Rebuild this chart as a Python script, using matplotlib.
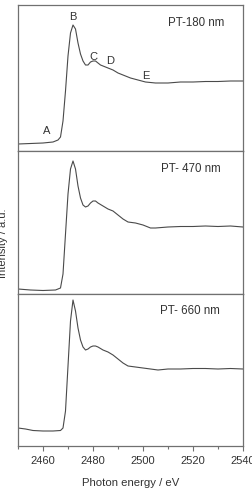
import matplotlib
matplotlib.use("Agg")
import matplotlib.pyplot as plt
from matplotlib.ticker import MultipleLocator

plt.rcParams['font.family'] = ['Liberation Sans', 'DejaVu Sans']

# photon energy (eV) and intensity (a.u.) for each sample
e_180 = [2450, 2455, 2460, 2464, 2466, 2467, 2468, 2469, 2470, 2471, 2472, 2473, 2474, 2475,
         2476, 2477, 2478, 2479, 2480, 2481, 2482, 2483, 2484, 2486, 2488, 2490, 2492, 2495,
         2498, 2501, 2505, 2510, 2515, 2520, 2525, 2530, 2535, 2540]
i_180 = [7, 7.5, 8, 9, 11, 14, 30, 60, 95, 118, 126, 122, 108, 97,
         90, 86, 86, 89, 90, 90, 88, 86, 85, 83, 81, 78, 76, 73,
         71, 69, 68, 68, 69, 69, 69.5, 69.5, 70, 70]

e_470 = [2450, 2455, 2460, 2465, 2467, 2468, 2469, 2470, 2471, 2472, 2473, 2474, 2475, 2476,
         2477, 2478, 2479, 2480, 2481, 2482, 2484, 2486, 2488, 2490, 2492, 2494, 2497, 2500,
         2503, 2505, 2510, 2515, 2520, 2525, 2530, 2535, 2540]
i_470 = [5, 4, 3.5, 4, 6, 20, 60, 100, 125, 133, 125, 108, 96, 89,
         87, 88, 91, 93, 93, 91, 88, 85, 83, 79, 75, 72, 71, 69,
         66, 66, 67, 67.5, 67.5, 68, 67.5, 68, 67]

e_660 = [2450, 2453, 2456, 2460, 2464, 2467, 2468, 2469, 2470, 2471, 2472, 2473, 2474, 2475,
         2476, 2477, 2478, 2479, 2480, 2481, 2482, 2484, 2486, 2488, 2490, 2492, 2494, 2497,
         2500, 2503, 2506, 2510, 2515, 2520, 2525, 2530, 2535, 2540]
i_660 = [18, 17, 15.5, 15, 15, 15.5, 18, 35, 80, 125, 146, 135, 118, 106,
         99, 96, 97, 99, 100, 100, 99, 96, 94, 91, 87, 83, 80, 79,
         78, 77, 76, 77, 77, 77.5, 77.5, 77, 77.5, 77]

samples = ['PT-180 nm', 'PT- 470 nm', 'PT- 660 nm']
energies = [e_180, e_470, e_660]
intensities = [i_180, i_470, i_660]
y_tops = [146, 143, 152]

peak_names = ['A', 'B', 'C', 'D', 'E']
peak_e = [2461.6, 2472, 2480, 2487, 2501]
peak_i = [20, 134, 94, 90, 75]

fig = plt.figure(figsize=(2.52, 4.90), dpi=100)
left = 18 / 252
width = (243 - 18) / 252
bounds = [(5, 151), (151, 294), (294, 446)]
label_pos = [(0.79, 0.877), (0.77, 0.874), (0.764, 0.888)]

line_col = '#4a4a4a'
frame_col = '#707070'
text_col = '#333333'

for k in range(3):
    top_px, bot_px = bounds[k]
    ax = fig.add_axes([left, 1 - bot_px / 490, width, (bot_px - top_px) / 490])
    ax.plot(energies[k], intensities[k], color=line_col, lw=0.8)
    ax.set_xlim(2450, 2540)
    ax.set_ylim(0, y_tops[k])
    ax.set_yticks([])
    for s in ax.spines.values():
        s.set_color(frame_col)
        s.set_linewidth(0.9)
    ax.text(label_pos[k][0], label_pos[k][1], samples[k], transform=ax.transAxes,
            ha='center', va='center', fontsize=8.3, color=text_col)
    if k < 2:
        ax.set_xticks([])
    else:
        ax.xaxis.set_major_locator(MultipleLocator(20))
        ax.xaxis.set_minor_locator(MultipleLocator(10))
        ax.tick_params(axis='x', which='both', direction='out', colors=frame_col,
                       labelcolor=text_col, labelsize=8, width=0.8, pad=4)
        ax.tick_params(axis='x', which='major', length=3.5)
        ax.tick_params(axis='x', which='minor', length=2)
        ax.set_xlabel('Photon energy / eV', fontsize=8.2, color=text_col, labelpad=8)
    if k == 0:
        for name, xe, yi in zip(peak_names, peak_e, peak_i):
            ax.text(xe, yi, name, ha='center', va='center', fontsize=8, color=text_col)

fig.text(3 / 252, 0.504, 'Intensity / a.u.', rotation=90, ha='center', va='center',
         fontsize=8, color=text_col)

fig.savefig('out.png', dpi=100)
